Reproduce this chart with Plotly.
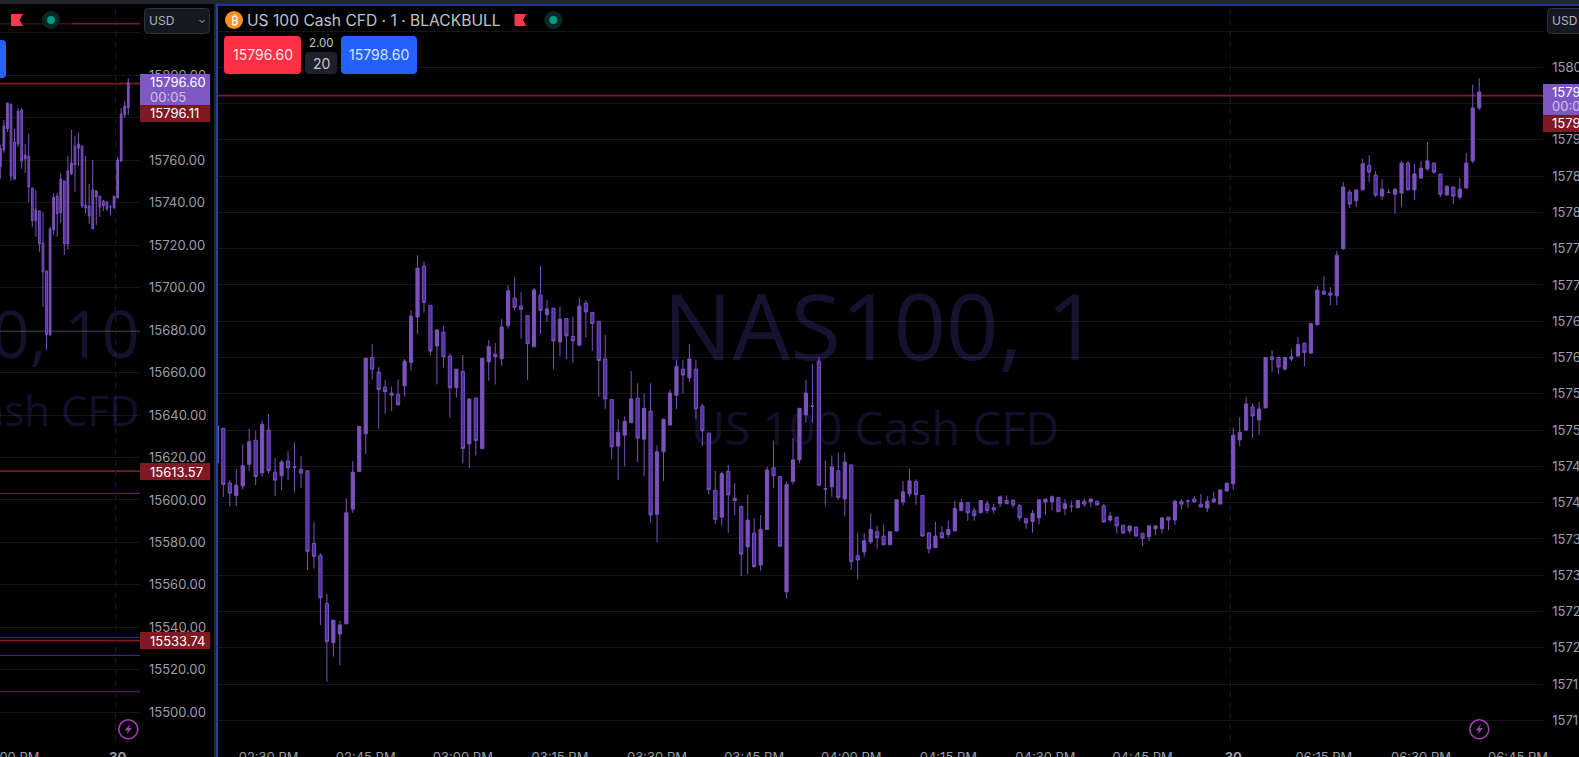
import plotly.graph_objects as go

W, H = 1579, 757

# 1 minute NAS100 chart on the right
main_open = [15745.5,15750.25,15742.7,15741.0,15742.3,15745.3,15748.6,15744.1,15750.0,15744.2,
    15743.7,15745.75,15744.9,15744.6,15744.4,15734.4,15732.75,15726.1,15720.7,15721.9,
    15723.3,15739.1,15744.3,15749.5,15760.0,15758.0,15755.9,15755.1,15754.9,15756.1,
    15759.3,15765.6,15772.6,15767.2,15761.6,15763.5,15760.2,15755.85,15758.1,15748.1,
    15754.4,15747.45,15759.4,15760.45,15759.85,15764.4,15768.2,15767.1,15765.8,15761.5,
    15768.6,15765.9,15766.8,15762.15,15765.4,15762.9,15761.7,15767.5,15766.2,15765.0,
    15759.8,15754.2,15747.8,15749.3,15751.0,15754.4,15748.75,15752.6,15738.4,15747.0,
    15750.7,15754.8,15758.4,15757.2,15758.4,15753.3,15749.6,15741.7,15738.0,15744.35,
    15740.6,15739.5,15733.9,15735.8,15731.4,15736.3,15744.8,15743.6,15727.7,15742.9,
    15745.9,15752.1,15753.3,15759.5,15741.9,15742.2,15744.4,15740.5,15745.2,15732.7,
    15733.2,15734.6,15736.0,15735.4,15734.2,15736.1,15740.1,15741.2,15742.9,15741.0,
    15735.85,15733.8,15735.85,15735.6,15736.1,15738.9,15740.0,15738.9,15738.6,15739.85,
    15739.3,15739.85,15740.3,15740.3,15739.6,15737.8,15737.4,15737.9,15740.1,15740.1,
    15740.7,15739.2,15739.5,15739.3,15740.2,15740.1,15740.2,15739.55,15737.6,15738.0,
    15736.9,15736.1,15736.65,15735.8,15735.3,15736.4,15736.4,15738.0,15737.6,15740.2,
    15740.2,15740.5,15739.8,15739.25,15740.1,15739.8,15741.6,15742.6,15748.65,15750.0,
    15753.2,15751.4,15753.05,15760.1,15760.0,15758.4,15759.8,15760.2,15762.0,15760.6,
    15764.5,15769.15,15768.9,15768.5,15775.0,15782.8,15781.6,15783.1,15786.5,15785.15,
    15782.25,15782.76,15782.5,15782.67,15786.8,15783.1,15784.75,15786.0,15786.8,15785.3,
    15782.4,15783.5,15782.1,15783.35,15787.1,15794.4]
main_close = [15750.6,15742.5,15741.3,15742.4,15745.1,15748.4,15743.6,15750.8,15744.4,15743.1,
    15745.6,15744.8,15744.9,15744.1,15733.3,15732.6,15726.9,15720.85,15723.8,15723.15,
    15738.6,15744.2,15750.5,15759.9,15758.4,15755.6,15755.3,15754.8,15753.5,15759.5,
    15765.7,15772.3,15767.6,15760.9,15763.8,15760.1,15755.85,15758.4,15747.45,15754.3,
    15748.55,15759.9,15761.5,15760.1,15764.2,15769.2,15766.9,15766.65,15761.9,15769.3,
    15766.5,15766.7,15762.3,15765.3,15763.0,15762.3,15767.1,15766.3,15764.7,15759.6,
    15754.3,15747.7,15749.7,15751.2,15754.3,15748.9,15753.0,15738.3,15747.0,15751.5,
    15755.1,15758.8,15757.6,15759.8,15752.9,15749.9,15741.8,15737.7,15744.0,15741.1,
    15740.3,15732.9,15737.6,15731.2,15736.3,15744.5,15743.7,15734.0,15742.5,15745.9,
    15753.0,15755.1,15753.3,15742.4,15741.9,15744.95,15740.7,15745.6,15731.9,15732.1,
    15734.75,15736.3,15735.2,15734.2,15736.0,15740.4,15741.5,15743.0,15741.1,15735.4,
    15733.65,15735.4,15735.2,15736.3,15739.2,15740.0,15738.6,15738.2,15740.3,15738.9,
    15739.0,15740.8,15739.85,15739.7,15737.9,15737.2,15738.5,15740.4,15740.5,15740.8,
    15738.75,15739.85,15739.5,15740.3,15739.8,15740.5,15739.7,15737.35,15738.15,15736.8,
    15735.8,15736.8,15735.4,15735.1,15736.8,15736.8,15737.9,15737.6,15740.2,15739.8,
    15740.2,15740.1,15739.4,15740.2,15740.5,15741.75,15742.7,15749.3,15749.7,15753.6,
    15751.95,15752.9,15760.0,15759.7,15758.7,15760.0,15760.1,15761.8,15760.7,15764.7,
    15769.3,15768.75,15768.6,15774.1,15783.5,15781.15,15783.1,15786.7,15785.55,15782.4,
    15783.2,15782.76,15783.2,15786.8,15783.1,15785.3,15786.1,15787.1,15785.55,15782.5,
    15783.6,15782.25,15783.2,15786.8,15794.4,15796.6]
main_high = [15750.6,15750.3,15743.1,15744.6,15748.0,15750.2,15749.9,15751.3,15752.2,15746.1,
    15745.9,15747.1,15748.3,15746.4,15744.4,15737.3,15733.0,15727.4,15723.8,15723.7,
    15740.6,15745.7,15750.6,15759.9,15761.9,15758.65,15756.9,15756.0,15757.0,15759.8,
    15766.55,15774.1,15773.3,15767.2,15763.9,15764.4,15760.6,15758.4,15760.35,15754.3,
    15754.5,15759.9,15762.4,15762.0,15765.3,15770.0,15771.06,15769.0,15765.8,15769.6,
    15772.6,15767.9,15766.8,15767.0,15765.4,15765.6,15768.2,15767.9,15766.2,15765.0,
    15763.1,15754.25,15751.5,15751.9,15758.15,15756.45,15755.0,15756.45,15747.9,15751.6,
    15755.6,15759.7,15759.7,15761.9,15759.7,15753.6,15749.6,15744.4,15744.3,15745.2,
    15742.7,15739.5,15741.1,15737.9,15738.3,15744.95,15748.5,15743.6,15742.9,15748.9,
    15753.0,15756.9,15759.1,15760.1,15745.8,15746.5,15746.9,15746.9,15745.2,15735.85,
    15735.85,15738.5,15736.8,15737.0,15736.0,15740.4,15743.0,15744.7,15743.2,15741.0,
    15735.85,15737.4,15736.8,15737.5,15740.3,15740.5,15740.0,15739.3,15740.3,15740.3,
    15739.85,15741.0,15741.0,15740.5,15739.85,15737.8,15739.0,15740.4,15740.5,15741.0,
    15740.8,15740.5,15740.3,15740.4,15740.55,15740.65,15740.25,15739.8,15738.7,15738.0,
    15736.9,15736.8,15736.65,15735.8,15736.9,15736.9,15738.0,15738.0,15740.4,15740.5,
    15740.5,15740.9,15741.2,15740.9,15741.5,15741.75,15742.7,15750.3,15751.8,15754.6,
    15753.7,15753.9,15760.0,15761.0,15760.0,15760.1,15761.15,15762.8,15762.0,15764.7,
    15769.85,15771.2,15769.7,15774.7,15784.2,15783.2,15783.1,15787.4,15787.9,15785.7,
    15784.6,15783.2,15783.35,15787.1,15787.1,15786.7,15787.1,15789.7,15786.8,15785.3,
    15783.75,15783.6,15784.75,15788.2,15797.6,15798.5]
main_low = [15745.5,15740.8,15739.5,15739.5,15741.8,15744.4,15742.4,15743.6,15744.0,15740.9,
    15741.7,15743.1,15741.4,15742.0,15730.7,15730.9,15723.15,15715.3,15718.8,15717.6,
    15723.3,15738.6,15744.3,15746.7,15757.0,15750.2,15752.2,15752.6,15753.4,15754.6,
    15758.2,15763.2,15766.2,15760.3,15756.3,15758.6,15751.7,15754.5,15745.4,15744.8,
    15746.5,15747.45,15756.8,15756.3,15758.9,15764.0,15766.5,15762.6,15756.9,15761.5,
    15763.25,15764.9,15758.4,15760.2,15759.8,15759.25,15761.7,15762.8,15760.9,15754.6,
    15752.9,15746.0,15743.1,15745.0,15751.0,15745.6,15743.65,15737.3,15734.5,15743.0,
    15750.7,15752.9,15755.0,15756.6,15751.5,15747.8,15741.1,15737.1,15736.8,15735.85,
    15738.3,15729.9,15730.1,15731.0,15730.6,15736.3,15742.0,15734.0,15726.8,15742.5,
    15745.5,15751.0,15751.0,15742.4,15739.6,15740.8,15740.4,15738.1,15730.75,15729.4,
    15732.55,15734.3,15733.65,15734.2,15734.2,15736.0,15739.6,15740.8,15739.7,15735.3,
    15733.0,15733.8,15735.0,15735.2,15736.1,15738.9,15737.5,15737.5,15738.5,15738.5,
    15738.5,15739.4,15739.85,15739.3,15737.5,15736.4,15735.85,15737.0,15738.3,15738.9,
    15738.75,15738.3,15738.75,15739.3,15739.4,15739.4,15739.55,15737.2,15737.35,15735.8,
    15735.8,15735.7,15735.3,15734.0,15734.7,15735.5,15735.8,15736.2,15736.9,15739.1,
    15739.3,15739.95,15739.4,15738.7,15739.95,15739.8,15741.6,15741.75,15747.8,15750.0,
    15748.9,15749.3,15753.05,15758.0,15757.7,15758.25,15759.5,15760.2,15758.8,15760.6,
    15764.5,15768.6,15767.2,15767.2,15774.8,15780.6,15780.75,15783.1,15784.2,15782.1,
    15781.7,15782.65,15779.8,15780.75,15783.1,15781.7,15784.6,15785.7,15785.3,15782.1,
    15782.4,15781.15,15781.8,15783.35,15786.8,15794.1]

main_ticks = [8, 23, 38, 53, 68, 83, 98, 113, 128, 143, 157, 171, 186, 201]
main_tick_text = ["02:30 PM", "02:45 PM", "03:00 PM", "03:15 PM", "03:30 PM", "03:45 PM", "04:00 PM",
    "04:15 PM", "04:30 PM", "04:45 PM", "<b>30</b>", "06:15 PM", "06:30 PM", "06:45 PM"]
main_price_ticks = [15805, 15800, 15795, 15790, 15785, 15780, 15775, 15770, 15765, 15760,
    15755, 15750, 15745, 15740, 15735, 15730, 15725, 15720, 15715, 15710]

# 10 minute chart, only the end of it is visible
left_open = [15757.0,15764.9,15774.8,15786.5,15768.6,15767.7,15783.7,15760.6,15762.0,15747.0,
    15731.5,15736.2,15721.1,15707.9,15677.8,15727.2,15743.2,15735.2,15750.3,15720.6,
    15753.6,15766.75,15765.65,15766.75,15739.0,15738.5,15746.0,15742.7,15743.2,15740.8,
    15740.4,15738.0,15737.6,15742.3,15759.7,15781.4,15784.6]
left_close = [15765.65,15776.2,15787.0,15752.6,15751.2,15783.2,15759.7,15762.5,15747.4,15731.5,
    15736.6,15720.6,15707.4,15677.8,15727.7,15742.7,15734.8,15751.2,15720.6,15755.0,
    15758.75,15757.8,15767.7,15738.5,15737.5,15733.8,15727.7,15745.6,15738.0,15738.5,
    15737.1,15738.0,15743.2,15760.2,15781.8,15785.6,15796.6]
left_high = [15767.2,15779.0,15787.0,15786.5,15774.8,15784.6,15784.6,15767.7,15772.4,15747.0,
    15746.0,15736.2,15735.7,15707.9,15728.6,15744.6,15744.6,15754.0,15750.3,15762.0,
    15774.3,15771.5,15772.9,15766.75,15762.0,15748.9,15760.2,15745.6,15743.2,15741.3,
    15740.8,15739.0,15743.2,15761.6,15784.6,15787.9,15798.8]
left_low = [15751.2,15763.6,15773.3,15750.3,15750.7,15766.3,15756.0,15754.0,15740.4,15728.6,
    15723.9,15716.9,15691.0,15670.7,15677.3,15724.9,15723.9,15730.5,15715.4,15717.8,
    15753.2,15745.1,15757.3,15737.5,15734.8,15730.0,15727.5,15729.6,15733.3,15736.1,
    15736.1,15734.3,15737.3,15742.3,15759.2,15779.9,15781.4]

left_ticks = [3, 33]
left_tick_text = ["12:00 PM", "<b>30</b>"]
left_price_ticks = [15820, 15800, 15780, 15760, 15740, 15720, 15700, 15680, 15660, 15640,
    15620, 15600, 15580, 15560, 15540, 15520, 15500]

# horizontal levels drawn on the left chart
left_levels = [15796.11, 15679.5, 15613.57, 15603.1, 15535.3, 15533.74, 15526.8, 15509.7]
left_level_colors = ["#801922", "#512da8", "#801922", "#6a1b9a", "#4a2a9c", "#801922", "#4a2a9c", "#6a1b9a"]
main_levels = [15796.11]

last_price = "15796.60"
countdown = "00:05"
level_tag = "15796.11"
bid = "15796.60"
ask = "15798.60"

UP = "#7b52bd"
DOWN = "#512da8"
RED_TAG = "#801922"
TAG = "#7e57c2"
TEXT = "#9b9ea6"
GRID = "#161616"
FONT = "Inter"


def px(x):
    return x / W


def py(y):
    return 1 - y / H


def rect(x0, y0, x1, y1, fill, line=None):
    return dict(type="rect", xref="paper", yref="paper", x0=px(x0), x1=px(x1), y0=py(y0), y1=py(y1),
                fillcolor=fill, line=dict(color=line or fill, width=1 if line else 0), layer="above")


def rrect(x0, y0, x1, y1, r, fill, line=None):
    a, b, c, d = px(x0), px(x1), py(y0), py(y1)
    rx, ry = r / W, r / H
    path = (f"M{a+rx},{c} L{b-rx},{c} Q{b},{c} {b},{c-ry} L{b},{d+ry} Q{b},{d} {b-rx},{d} "
            f"L{a+rx},{d} Q{a},{d} {a},{d+ry} L{a},{c-ry} Q{a},{c} {a+rx},{c} Z")
    return dict(type="path", xref="paper", yref="paper", path=path, fillcolor=fill,
                line=dict(color=line or fill, width=1 if line else 0), layer="above")


def poly(points, fill):
    path = "M" + " L".join(f"{px(x)},{py(y)}" for x, y in points) + " Z"
    return dict(type="path", xref="paper", yref="paper", path=path, fillcolor=fill, line=dict(width=0), layer="above")


def circle(cx, cy, r, fill, line=None, width=0):
    return dict(type="circle", xref="paper", yref="paper", x0=px(cx - r), x1=px(cx + r), y0=py(cy + r), y1=py(cy - r),
                fillcolor=fill, line=dict(color=line or fill, width=width), layer="above")


def label(x, y, text, size=13, color="#ffffff", anchor="left", font=FONT):
    return dict(xref="paper", yref="paper", x=px(x), y=py(y), text=text, showarrow=False, xanchor=anchor,
                yanchor="middle", xshift=0, align=anchor, borderpad=0, borderwidth=0,
                font=dict(family=font, size=size, color=color))


def price_range(top_price, px_per_point, top_y, y0, y1):
    return [top_price - (y1 - top_y) / px_per_point, top_price + (top_y - y0) / px_per_point]


PANEL_TOP, PANEL_BOTTOM = 6, 738

fig = go.Figure()
style = dict(
    increasing=dict(fillcolor=UP, line=dict(color=UP, width=1)),
    decreasing=dict(fillcolor=DOWN, line=dict(color=UP, width=1)),
    whiskerwidth=0,
    showlegend=False,
)
fig.add_trace(go.Candlestick(x=list(range(len(left_open))), open=left_open, high=left_high, low=left_low,
                             close=left_close, xaxis="x", yaxis="y", **style))
fig.add_trace(go.Candlestick(x=list(range(len(main_open))), open=main_open, high=main_high, low=main_low,
                             close=main_close, xaxis="x2", yaxis="y2", **style))

xcommon = dict(showgrid=False, zeroline=False, showline=False, tickmode="array", ticks="", ticklabeloverflow="allow",
               tickfont=dict(family=FONT, size=13, color=TEXT), rangeslider=dict(visible=False),
               ticklabelstandoff=10, tickangle=0)
ycommon = dict(showgrid=True, gridcolor=GRID, gridwidth=1, zeroline=False, showline=False, tickmode="array",
               ticks="", side="right", ticklabeloverflow="allow", ticklabelstandoff=8,
               tickfont=dict(family=FONT, size=13, color=TEXT))

shapes = []
# levels sit behind the candles
for level, color in zip(left_levels, left_level_colors):
    shapes.append(dict(type="line", xref="x domain", yref="y", x0=0, x1=1, y0=level, y1=level,
                       line=dict(color=color, width=1.8 if color == RED_TAG else 1), layer="below"))
for level in main_levels:
    shapes.append(dict(type="line", xref="x2 domain", yref="y2", x0=0, x1=1, y0=level, y1=level,
                       line=dict(color=RED_TAG, width=1.8), layer="below"))
# session break
shapes.append(dict(type="line", xref="x", yref="paper", x0=32.44, x1=32.44, y0=py(741), y1=py(4),
                   line=dict(color="#141d33", width=1, dash="6px,5px"), layer="below"))
shapes.append(dict(type="line", xref="x2", yref="paper", x0=156.55, x1=156.55, y0=py(741), y1=py(6),
                   line=dict(color="#141d33", width=1, dash="6px,5px"), layer="below"))

# window frame
shapes += [rect(0, 0, W, 4, "#23262e"), rect(216, 4, W, 5.8, "#1e3fa6"),
           rect(214, 0, 216, H, "#23262e"), rect(216, 4, 218, H, "#1e3fa6")]

# alert line and markers on the left pane header
shapes += [rect(0, 23, 72, 24.5, "#3a1016"), rect(72, 23, 140, 24.5, RED_TAG)]
shapes.append(poly([(11, 14), (23, 14), (19.5, 20), (23, 26), (11, 26)], "#f9394a"))
shapes += [circle(51, 20, 9, "#0a2925"), circle(51, 20, 4, "#089981")]
shapes.append(rrect(-8, 40, 6, 78, 4, "#2962ff"))

# right pane header
shapes.append(circle(234, 20, 9, "#f7931a"))
shapes.append(poly([(514.5, 14), (526.5, 14), (523, 20), (526.5, 26), (514.5, 26)], "#f9394a"))
shapes += [circle(553.3, 20, 9, "#0a2925"), circle(553.3, 20, 4, "#089981")]
shapes += [rrect(224, 36, 301, 74, 4, "#ff2f44"), rrect(305, 52, 337, 74, 4, "#1e222d"),
           rrect(341, 36, 417, 74, 4, "#2560ff")]

# currency buttons
shapes += [rrect(144.5, 8.5, 209.5, 33.5, 4, "#141821", "#2e323b"),
           rrect(1547.5, 8.5, 1600, 33.5, 4, "#141821", "#2e323b")]
shapes.append(dict(type="path", xref="paper", yref="paper",
                   path=f"M{px(199.5)},{py(20)} L{px(202)},{py(22.5)} L{px(204.5)},{py(20)}",
                   line=dict(color="#b2b5be", width=1), layer="above"))

# price tags
shapes += [rect(140, 74, 210, 105.3, TAG), rect(140, 105.3, 210, 122, RED_TAG),
           rect(140, 463, 210, 480, RED_TAG), rect(140, 632, 210, 649, RED_TAG),
           rect(1543, 84, W, 115.3, TAG), rect(1543, 115.3, W, 132, RED_TAG)]

# lightning buttons
for cx in (128.3, 1479.3):
    shapes.append(circle(cx, 729.3, 9.5, "#000000", "#a63db8", 1.6))
    shapes.append(poly([(cx + 2, 723.5), (cx - 3.5, 730.5), (cx - 0.3, 730.5), (cx - 2, 735),
                        (cx + 3.5, 728), (cx + 0.3, 728)], "#a63db8"))

watermark = "rgba(105,85,230,0.2)"
annotations = [
    label(881, 324, "NAS100, 1", 92, watermark, "center", "Open Sans"),
    label(875, 427, "US 100 Cash CFD", 46.5, watermark, "center", "Open Sans"),
    label(140, 332, "NAS100, 10", 66, watermark, "right", "Open Sans"),
    label(140, 410, "US 100 Cash CFD", 42, watermark, "right", "Open Sans"),
    label(247, 20, "US 100 Cash CFD · 1 · BLACKBULL", 15.6, "#c0c2c9"),
    label(234, 20, "₿", 13, "#ffffff", "center", "Noto Sans"),
    label(262.5, 55, bid, 14, "#ffe3e6", "center"),
    label(321, 43, "2.00", 11.5, "#c4c6cd", "center"),
    label(321, 63, "20", 14, "#c4c6cd", "center"),
    label(379, 55, ask, 14, "#d8e2ff", "center"),
    label(148.5, 21, "USD", 12, "#b2b5be"),
    label(1552, 21, "USD", 12, "#b2b5be"),
    label(149.5, 82.5, last_price, 13, "#ffffff"),
    label(149.5, 97, countdown, 13, "#cfc3e6"),
    label(149.5, 113.5, level_tag, 13, "#ffffff"),
    label(149.5, 471.5, "15613.57", 13, "#ffffff"),
    label(149.5, 640.5, "15533.74", 13, "#ffffff"),
    label(1552, 92, last_price, 13, "#ffffff"),
    label(1552, 106.5, countdown, 13, "#cfc3e6"),
    label(1552, 123.5, level_tag, 13, "#ffffff"),
]

fig.update_layout(
    width=W, height=H, autosize=False,
    margin=dict(l=0, r=0, t=0, b=0, autoexpand=False),
    paper_bgcolor="#000000", plot_bgcolor="#000000",
    boxgap=0.3, hovermode=False, dragmode=False, showlegend=False,
    xaxis=dict(domain=[0, px(140)], range=[-0.09, 39.3], tickvals=left_ticks, ticktext=left_tick_text, anchor="y", **xcommon),
    yaxis=dict(domain=[py(PANEL_BOTTOM), py(PANEL_TOP)], anchor="x",
               range=price_range(15760, 2.123, 160.3, PANEL_TOP, PANEL_BOTTOM),
               tickvals=left_price_ticks,
               ticktext=["" if t == 15820 else f"{t}.00" for t in left_price_ticks], **ycommon),
    xaxis2=dict(domain=[px(218), px(1543.3)], range=[0.18, 204.9], tickvals=main_ticks, ticktext=main_tick_text, anchor="y2", **xcommon),
    yaxis2=dict(domain=[py(PANEL_BOTTOM), py(PANEL_TOP)], anchor="x2",
                range=price_range(15800, 7.256, 67.3, PANEL_TOP, PANEL_BOTTOM),
                tickvals=main_price_ticks,
                ticktext=["" if t == 15805 else f"{t}.00" for t in main_price_ticks], **ycommon),
    shapes=shapes,
    annotations=annotations,
)

fig.write_html("out.html", config={"displayModeBar": False},
               post_script="document.body.style.margin='0';document.body.style.background='#000';document.body.style.overflow='hidden';")
